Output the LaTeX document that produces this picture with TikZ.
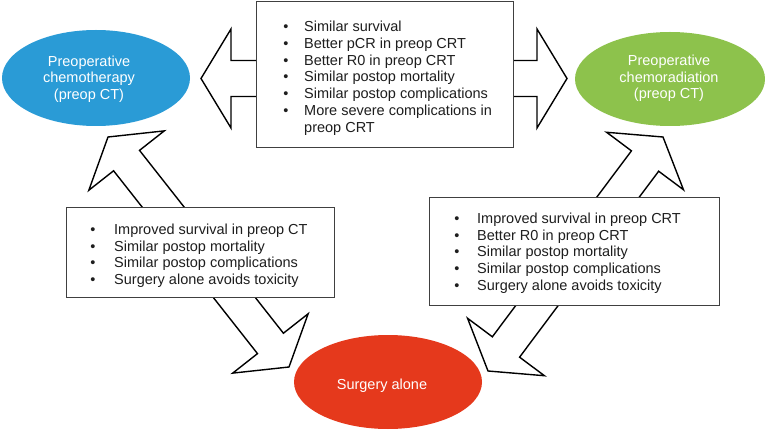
\documentclass[tikz,border=0pt]{standalone}
\usepackage{fontspec}
\setmainfont{Liberation Sans}
\usetikzlibrary{calc,shapes.geometric}
\definecolor{cblue}{RGB}{42,155,214}
\definecolor{cgreen}{RGB}{141,194,76}
\definecolor{cred}{RGB}{229,57,28}
\definecolor{ctext}{RGB}{30,30,30}
\newcommand\blockarrow[5]{%
  \coordinate (ha) at ($(#1)!#5!(#2)$);
  \coordinate (hb) at ($(#2)!#5!(#1)$);
  \draw[arrowbox] (#1) -- ($(ha)!#4!90:(#2)$) -- ($(ha)!#3!90:(#2)$)
    -- ($(hb)!#3!-90:(#1)$) -- ($(hb)!#4!-90:(#1)$) -- (#2)
    -- ($(hb)!#4!90:(#1)$) -- ($(hb)!#3!90:(#1)$)
    -- ($(ha)!#3!-90:(#2)$) -- ($(ha)!#4!-90:(#2)$) -- cycle;
}
\begin{document}
\begin{tikzpicture}[x=1pt,y=-1pt,
  arrowbox/.style={draw=black, fill=white, line width=1.4pt, line join=miter},
  infobox/.style={draw=black!75, fill=white, line width=0.9pt, anchor=north west, inner sep=0},
  oval/.style={ellipse, inner sep=0, draw=none},
  bodytext/.style={anchor=base west, inner sep=0, text=ctext, font=\fontsize{14.5}{16.8}\selectfont},
  bul/.style={anchor=base, inner sep=0, text=ctext, font=\fontsize{14.5}{16.8}\selectfont},
  ovaltext/.style={anchor=base, inner sep=0, text=white, font=\fontsize{14.5}{16.8}\selectfont}
]
\useasboundingbox (0,0) rectangle (765,430);

% ellipses
\node[oval, fill=cblue, minimum width=188, minimum height=96] (pct) at (96,78) {};
\node[oval, fill=cgreen, minimum width=190, minimum height=94] (pcrt) at (670,79) {};
\node[oval, fill=cred, minimum width=188, minimum height=94] (surg) at (388,382) {};

% arrow tips
\coordinate (h1) at (201,78.5);
\coordinate (h2) at (567,78.5);
\coordinate (l1) at (108,137);
\coordinate (l2) at (289,367);
\coordinate (r1) at (663,137);
\coordinate (r2) at (488,371);
\blockarrow{h1}{h2}{18pt}{49.5pt}{30pt}
\blockarrow{l1}{l2}{16.5pt}{48pt}{30pt}
\blockarrow{r1}{r2}{17pt}{48pt}{30pt}

% boxes
\node[infobox, minimum width=257, minimum height=146] (topbox) at (256,1) {};
\node[infobox, minimum width=268, minimum height=90] (lbox) at (66,207) {};
\node[infobox, minimum width=290, minimum height=108] (rbox) at (429,197) {};

% top box text
\foreach \t [count=\i from 0] in {Similar survival, Better pCR in preop CRT, Better R0 in preop CRT, Similar postop mortality, Similar postop complications, More severe complications in}{
  \node[bul] (tb\i) at (286,31.5+16.8*\i) {•};
  \node[bodytext] (tt\i) at (304,31.5+16.8*\i) {\t};
}
\node[bodytext] (tt6) at (304,31.5+16.8*6) {preop CRT};

% lower left box text
\foreach \t [count=\i from 0] in {Improved survival in preop CT, Similar postop mortality, Similar postop complications, Surgery alone avoids toxicity}{
  \node[bul] (lb\i) at (93,234.5+16.7*\i) {•};
  \node[bodytext] (lt\i) at (114,234.5+16.7*\i) {\t};
}

% lower right box text
\foreach \t [count=\i from 0] in {Improved survival in preop CRT, Better R0 in preop CRT, Similar postop mortality, Similar postop complications, Surgery alone avoids toxicity}{
  \node[bul] (rb\i) at (457,223.5+16.7*\i) {•};
  \node[bodytext] (rt\i) at (477,223.5+16.7*\i) {\t};
}

% ellipse labels
\node[ovaltext] (pct1) at (89,66.5) {Preoperative};
\node[ovaltext] (pct2) at (89,83) {chemotherapy};
\node[ovaltext] (pct3) at (89,99.5) {(preop CT)};
\node[ovaltext] (pcrt1) at (669,65.5) {Preoperative};
\node[ovaltext] (pcrt2) at (669,82.5) {chemoradiation};
\node[ovaltext] (pcrt3) at (669,99) {(preop CT)};
\node[ovaltext] (surg1) at (382,389.5) {Surgery alone};
\end{tikzpicture}
\end{document}
